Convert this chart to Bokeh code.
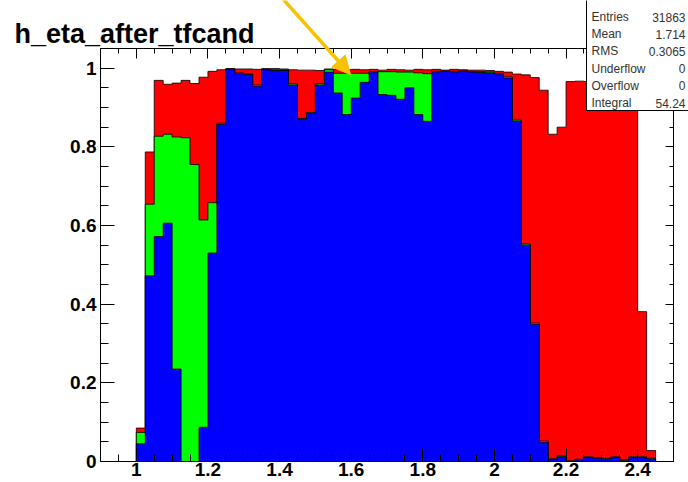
from bokeh.plotting import figure
from bokeh.models import (FixedTicker, LinearAxis, Label, Arrow, NormalHead,
                          BoxAnnotation, Range1d)
from bokeh.embed import file_html
from bokeh.resources import INLINE

# ---------------- data ----------------
eta_start = 1.0
bin_width = 0.025

red = [0.085, 0.787, 0.969, 0.959, 0.962, 0.969, 0.961, 0.977, 0.992, 0.996,
       0.999, 0.998, 0.998, 0.997, 0.999, 0.999, 0.998, 0.996, 0.995, 0.995,
       0.994, 0.998, 0.997, 0.996, 0.997, 0.996, 0.997, 0.995, 0.997, 0.996,
       0.995, 0.997, 0.996, 0.997, 0.995, 0.997, 0.996, 0.995, 0.995, 0.994,
       0.992, 0.990, 0.985, 0.983, 0.976, 0.944, 0.832, 0.850, 0.966, 0.967,
       0.966, 0.967, 0.966, 0.967, 0.966, 0.965, 0.381, 0.028]

green = [0.074, 0.654, 0.827, 0.832, 0.825, 0.823, 0.755, 0.614, 0.658, 0.860,
         0.998, 0.988, 0.985, 0.957, 0.997, 0.995, 0.995, 0.960, 0.872, 0.887,
         0.960, 0.996, 0.987, 0.987, 0.987, 0.987, 0.991, 0.991, 0.991, 0.990,
         0.990, 0.988, 0.986, 0.992, 0.993, 0.992, 0.993, 0.992, 0.991, 0.990,
         0.987, 0.978, 0.868, 0.553, 0.352, 0.052, 0.007, 0.014, 0.002, 0.006,
         0.012, 0.010, 0.008, 0.012, 0.004, 0.012, 0.012, 0.008]

blue = [0.045, 0.472, 0.572, 0.606, 0.235, 0.0, 0.0, 0.087, 0.530, 0.857,
        0.997, 0.986, 0.984, 0.954, 0.996, 0.994, 0.994, 0.957, 0.870, 0.885,
        0.957, 0.990, 0.937, 0.882, 0.924, 0.964, 0.990, 0.933, 0.931, 0.921,
        0.950, 0.882, 0.865, 0.990, 0.992, 0.990, 0.992, 0.990, 0.989, 0.988,
        0.985, 0.975, 0.865, 0.550, 0.349, 0.049, 0.005, 0.012, 0.0, 0.004,
        0.010, 0.008, 0.006, 0.010, 0.002, 0.010, 0.010, 0.006]

x_tick_values = [1.0, 1.2, 1.4, 1.6, 1.8, 2.0, 2.2, 2.4]
x_tick_labels = ["1", "1.2", "1.4", "1.6", "1.8", "2", "2.2", "2.4"]
y_tick_values = [0.0, 0.2, 0.4, 0.6, 0.8, 1.0]
y_tick_labels = ["0", "0.2", "0.4", "0.6", "0.8", "1"]

title_text = "h_eta_after_tfcand"
stat_names = ["Entries", "Mean", "RMS", "Underflow", "Overflow", "Integral"]
stat_values = ["31863", "1.714", "0.3065", "0", "0", "54.24"]

# ---------------- layout (pixels) ----------------
W, H = 688, 482
FRAME_L, FRAME_R, FRAME_T, FRAME_B = 100, 673, 48, 461
X_LO, X_HI = 0.9, 2.5
Y_LO, Y_HI = 0.0, 1.05
sx = (FRAME_R - FRAME_L) / (X_HI - X_LO)
sy = (FRAME_B - FRAME_T) / (Y_HI - Y_LO)
x_range = Range1d(X_LO - FRAME_L / sx, X_HI + (W - FRAME_R) / sx)
y_range = Range1d(Y_LO - (H - FRAME_B) / sy, Y_HI + FRAME_T / sy)

FONT = "Liberation Sans"
p = figure(width=W, height=H, output_backend="svg", toolbar_location=None,
           x_range=x_range, y_range=y_range,
           x_axis_type=None, y_axis_type=None, min_border=0)
p.background_fill_color = "white"
p.border_fill_color = "white"
p.outline_line_color = None

n = len(red)
lefts = [eta_start + i * bin_width for i in range(n)]
rights = [l + bin_width for l in lefts]


def step_outline(vals):
    xs, ys = [lefts[0]], [0.0]
    for l, r, v in zip(lefts, rights, vals):
        xs += [l, r]
        ys += [v, v]
    xs.append(rights[-1])
    ys.append(0.0)
    return xs, ys


for vals, col in [(red, "#ff0000"), (green, "#00ff00"), (blue, "#0000ff")]:
    xs, ys = step_outline(vals)
    p.patch(xs, ys, fill_color=col, line_color=None)
    p.line(xs, ys, line_color="black", line_width=1, line_alpha=0.8)

# ---------------- axes (frame edges) ----------------
minor_x = [round(0.9 + 0.05 * k, 3) for k in range(33)]
minor_y = [round(0.05 * k, 3) for k in range(22)]


def make_axis(loc, bounds, ticks, minors, labels, tick_in, minor_in):
    ax = LinearAxis(ticker=FixedTicker(ticks=ticks, minor_ticks=minors),
                    fixed_location=loc, bounds=bounds)
    ax.major_tick_out = 0
    ax.minor_tick_out = 0
    ax.major_tick_in = tick_in
    ax.minor_tick_in = minor_in
    ax.axis_line_color = "black"
    ax.axis_line_width = 1
    ax.major_tick_line_color = "black"
    ax.minor_tick_line_color = "black"
    if labels is None:
        ax.major_label_text_alpha = 0
        ax.major_label_text_color = None
    else:
        ax.major_label_overrides = {v: t for v, t in zip(ticks, labels)}
        ax.major_label_text_font = FONT
        ax.major_label_text_font_style = "bold"
        ax.major_label_text_font_size = "19px"
        ax.major_label_text_color = "black"
    return ax


xb = make_axis(Y_LO, (X_LO, X_HI), x_tick_values, minor_x, x_tick_labels, 13, 7)
xb.major_label_standoff = 1
p.add_layout(xb, "below")
yl = make_axis(X_LO, (Y_LO, Y_HI), y_tick_values, minor_y, y_tick_labels, 14, 8)
yl.major_label_standoff = 4
p.add_layout(yl, "left")
p.add_layout(make_axis(Y_HI, (X_LO, X_HI), x_tick_values, minor_x, None, 10, 5), "above")
p.add_layout(make_axis(X_HI, (Y_LO, Y_HI), y_tick_values, minor_y, None, 8, 4), "right")

# ---------------- title ----------------
p.add_layout(Label(x=14, y=H - 33, x_units="screen", y_units="screen",
                   text=title_text, text_font=FONT, text_font_style="bold",
                   text_font_size="27px", text_color="black",
                   text_baseline="alphabetic"))

# ---------------- stats box ----------------
p.add_layout(BoxAnnotation(left=586, right=W + 10, bottom=H - 110, top=H + 10,
                           left_units="screen", right_units="screen",
                           bottom_units="screen", top_units="screen",
                           fill_color="white", fill_alpha=1.0,
                           line_color="black", line_width=1, line_alpha=1.0))
for k, (nm, vl) in enumerate(zip(stat_names, stat_values)):
    yy = H - (16.5 + 17.2 * k)
    p.add_layout(Label(x=591, y=yy, x_units="screen", y_units="screen",
                       text=nm, text_font=FONT, text_font_size="12px",
                       text_color="#333333", text_baseline="middle",
                       text_align="left"))
    p.add_layout(Label(x=685, y=yy, x_units="screen", y_units="screen",
                       text=vl, text_font=FONT, text_font_size="12px",
                       text_color="#333333", text_baseline="middle",
                       text_align="right"))

# ---------------- arrow ----------------
p.add_layout(Arrow(x_start=282, y_start=H + 2, x_end=350, y_end=H - 74,
                   start_units="screen", end_units="screen",
                   line_color="#f7c200", line_width=3.5,
                   end=NormalHead(size=18, fill_color="#f7c200",
                                  line_color="#f7c200")))

open("out.html", "w").write(file_html(p, INLINE))
